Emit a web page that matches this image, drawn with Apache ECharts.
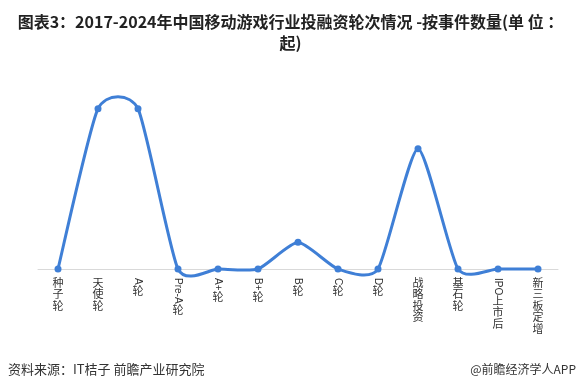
<!DOCTYPE html>
<html><head><meta charset="utf-8">
<script src="https://cdn.jsdelivr.net/npm/echarts@6/dist/echarts.min.js"></script>
<style>html,body{margin:0;padding:0;background:#fff}#c{width:581px;height:391px}</style>
</head><body><div id="c"></div>
<script>
const categories = ['种子轮','天使轮','A轮','Pre-A轮','A+轮','B+轮','B轮','C轮','D轮','战略投资','基石轮','IPO上市后','新三板定增'];
const eventCounts = [0,12,12,0,0,0,2,0,0,9,0,0,0];
const titleText = '图表3：2017-2024年中国移动游戏行业投融资轮次情况 -按事件数量(单 位 ：\n起)';
const sourceText = '资料来源：IT桔子 前瞻产业研究院';
const brandText = '@前瞻经济学人APP';

const font = '"Noto Sans CJK SC", "Noto Sans", sans-serif';
const latinFont = '10px "Liberation Sans", Arial, sans-serif';
const lineColor = '#3f7fd6';

// split label into leading latin run (drawn rotated) and CJK part (stacked)
function splitLabel(v) {
  const m = v.match(/^[A-Za-z+\-]+/);
  const latin = m ? m[0] : '';
  return { latin, cjk: v.slice(latin.length) };
}
const ctx = document.createElement('canvas').getContext('2d');
ctx.font = latinFont;
const rich = { c: { fontSize: 11, lineHeight: 11.5, color: '#333', fontFamily: font } };
for (let i = 0; i <= 40; i++) rich['g' + i] = { fontSize: 1, lineHeight: i, height: i };

const chart = echarts.init(document.getElementById('c'));

// Catmull-Rom style smoothing (tension factor) drawn through the axis scales
const k = 0.1;
function renderSeg(params, api) {
  const i = params.dataIndex;
  const n = eventCounts.length;
  if (i >= n - 1) return null;
  const P = j => api.coord([Math.max(0, Math.min(n - 1, j)), eventCounts[Math.max(0, Math.min(n - 1, j))]]);
  const p0 = P(i - 1), p1 = P(i), p2 = P(i + 1), p3 = P(i + 2);
  const c1 = [p1[0] + (p2[0] - p0[0]) * k, p1[1] + (p2[1] - p0[1]) * k];
  const c2 = [p2[0] - (p3[0] - p1[0]) * k, p2[1] - (p3[1] - p1[1]) * k];
  return {
    type: 'bezierCurve',
    shape: { x1: p1[0], y1: p1[1], x2: p2[0], y2: p2[1], cpx1: c1[0], cpy1: c1[1], cpx2: c2[0], cpy2: c2[1] },
    style: { stroke: lineColor, lineWidth: 3, fill: null, lineCap: 'round' }
  };
}

chart.setOption({
  backgroundColor: '#fff',
  animation: false,
  title: {
    text: titleText, left: 'center', top: 6,
    textStyle: { fontFamily: font, fontSize: 16, fontWeight: 'bold', color: '#222', lineHeight: 21 }
  },
  grid: { left: 38, right: 23, top: 82, bottom: 122 },
  xAxis: [{
    type: 'category', data: categories, boundaryGap: true,
    axisLine: { lineStyle: { color: '#d9d9d9', width: 1 } },
    axisTick: { show: false },
    axisLabel: {
      interval: 0, margin: 8, color: '#333', fontSize: 11, lineHeight: 11.5, fontFamily: font,
      rich,
      formatter: v => {
        const { latin, cjk } = splitLabel(v);
        const chars = cjk.split('').map(ch => '{c|' + ch + '}');
        if (latin) {
          const gap = Math.min(40, Math.round(ctx.measureText(latin).width) + 1);
          return '{g' + gap + '| }\n' + chars.join('\n');
        }
        return chars.join('\n');
      }
    }
  }, {
    type: 'category', data: categories, boundaryGap: true, position: 'bottom',
    axisLine: { show: false }, axisTick: { show: false }, splitLine: { show: false },
    axisLabel: {
      interval: 0, margin: 9, rotate: -90, color: '#333', fontSize: 10,
      fontFamily: '"Liberation Sans", Arial, sans-serif',
      formatter: v => splitLabel(v).latin
    }
  }],
  yAxis: { type: 'value', min: 0, max: 14, show: false, splitLine: { show: false } },
  series: [{
    type: 'custom', data: eventCounts, renderItem: renderSeg, clip: false, z: 2
  }, {
    type: 'line', data: eventCounts, clip: false,
    symbol: 'circle', symbolSize: 7, showSymbol: true,
    lineStyle: { opacity: 0 },
    itemStyle: { color: lineColor }, z: 3
  }],
  graphic: [
    { type: 'text', left: 8, top: 363, style: { text: sourceText, font: '13px ' + font, fill: '#333' } },
    { type: 'text', right: 5, top: 363, style: { text: brandText, font: '12px ' + font, fill: '#333' } }
  ]
});
</script></body></html>
